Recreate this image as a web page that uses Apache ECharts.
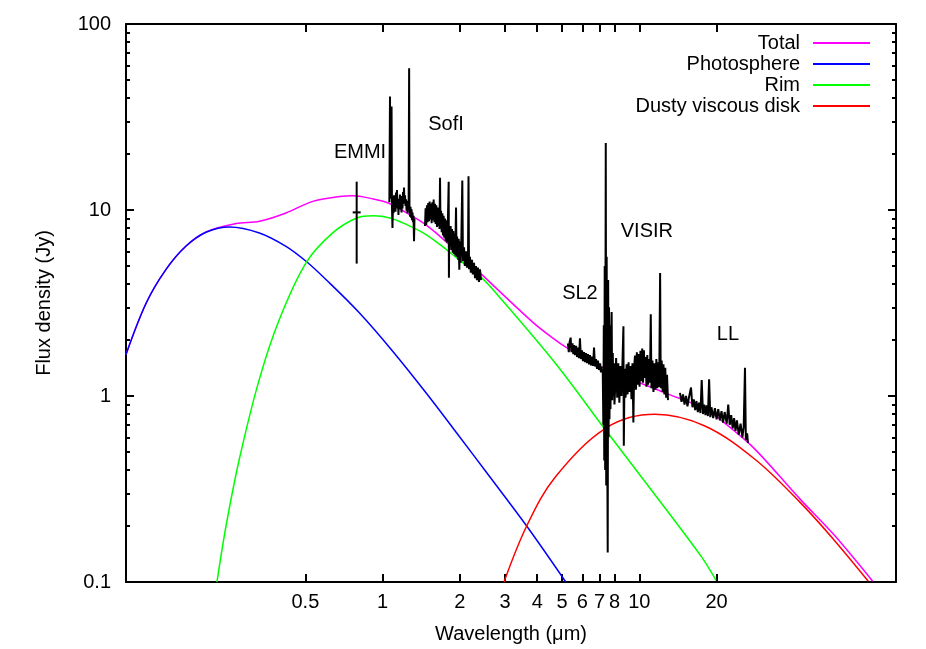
<!DOCTYPE html>
<html>
<head>
<meta charset="utf-8">
<title>SED</title>
<script src="https://cdn.jsdelivr.net/npm/echarts@6.0.0/dist/echarts.min.js"></script>
<style>
html, body { margin: 0; padding: 0; background: #fff; }
#main { width: 926px; height: 649px; }
</style>
</head>
<body>
<div id="main"></div>
<script>
// tick marks (wavelength in micron, flux in Jy)
var xTicks = [0.5, 1, 2, 3, 4, 5, 6, 7, 8, 10, 20];
var yTicks = [0.1, 1, 10, 100];
var yMinorTicks = [0.2, 0.3, 0.4, 0.5, 0.6, 0.7, 0.8, 0.9, 2, 3, 4, 5, 6, 7, 8, 9, 20, 30, 40, 50, 60, 70, 80, 90];

// model curves
var totalWave = [0.1, 0.12, 0.143, 0.171, 0.205, 0.268, 0.331, 0.42, 0.534, 0.682, 0.764, 0.919, 1.068, 1.241, 1.439, 1.672, 1.942, 2.394, 3.86, 4.69, 5.21, 7.24, 12.6, 18.0, 22.5, 28.2, 42.3, 57.0, 81.1];
var totalFlux = [1.67, 3.17, 4.78, 6.38, 7.62, 8.45, 8.69, 9.64, 11.13, 11.83, 11.94, 11.46, 10.81, 9.64, 8.52, 7.22, 6.00, 4.59, 2.48, 2.01, 1.82, 1.42, 1.04, 0.85, 0.68, 0.518, 0.279, 0.181, 0.101];
var photoWave = [0.1, 0.12, 0.143, 0.171, 0.205, 0.253, 0.331, 0.42, 0.503, 0.601, 0.811, 1.094, 1.475, 2.0, 2.54, 3.64, 5.17];
var photoFlux = [1.67, 3.17, 4.78, 6.38, 7.59, 8.11, 7.53, 6.38, 5.30, 4.23, 2.80, 1.74, 1.04, 0.60, 0.388, 0.20, 0.10];
var rimWave = [0.2261, 0.2453, 0.2763, 0.3306, 0.3957, 0.5028, 0.6384, 0.792, 0.919, 1.068, 1.241, 1.439, 1.672, 1.942, 2.394, 2.62, 4.69, 7.35, 12.79, 17.5, 19.9];
var rimFlux = [0.1, 0.2, 0.457, 1.229, 2.58, 5.20, 7.53, 9.06, 9.32, 9.06, 8.35, 7.53, 6.52, 5.53, 4.40, 3.89, 1.51, 0.662, 0.243, 0.136, 0.102];
var diskWave = [2.97, 3.64, 4.69, 7.46, 11.5, 18.0, 28.2, 42.3, 57.0, 78.0];
var diskFlux = [0.1, 0.2, 0.365, 0.676, 0.797, 0.690, 0.457, 0.268, 0.170, 0.101];

// photometry with error bar
var emmiWave = [0.792];
var emmiFlux = [9.71];
var emmiLow = [5.15];
var emmiHigh = [14.2];

// spectra
var sofiJWave = [1.062, 1.068, 1.072, 1.078, 1.083, 1.087, 1.092, 1.097, 1.102, 1.107, 1.112, 1.117, 1.122, 1.127, 1.132, 1.137, 1.142, 1.147, 1.152, 1.157, 1.162, 1.168, 1.173, 1.178, 1.184, 1.189, 1.195, 1.200, 1.205, 1.211, 1.216, 1.222, 1.227, 1.233, 1.239, 1.245, 1.250, 1.255, 1.262, 1.268, 1.272, 1.278, 1.284, 1.290, 1.296, 1.301, 1.307, 1.313, 1.319, 1.325, 1.330];
var sofiJFlux = [11.0, 40.8, 11.5, 13.0, 36.0, 10.5, 8.0, 11.2, 9.6, 12.0, 10.3, 11.8, 9.8, 12.4, 10.6, 12.8, 10.2, 11.5, 9.4, 11.0, 10.1, 12.1, 10.4, 11.3, 9.7, 11.9, 10.2, 12.5, 10.8, 13.2, 11.0, 12.0, 10.5, 11.4, 9.9, 10.8, 9.6, 11.2, 10.0, 57.8, 10.6, 9.2, 10.4, 9.1, 10.1, 8.8, 9.7, 8.6, 9.3, 6.8, 9.0];
var sofiHKWave = [1.462, 1.470, 1.478, 1.488, 1.496, 1.505, 1.515, 1.524, 1.533, 1.543, 1.552, 1.561, 1.571, 1.580, 1.590, 1.599, 1.609, 1.618, 1.628, 1.638, 1.648, 1.658, 1.665, 1.673, 1.680, 1.688, 1.698, 1.708, 1.718, 1.728, 1.738, 1.749, 1.760, 1.770, 1.781, 1.795, 1.808, 1.812, 1.818, 1.829, 1.840, 1.852, 1.863, 1.875, 1.885, 1.896, 1.905, 1.918, 1.931, 1.940, 1.950, 1.966, 1.978, 1.989, 2.001, 2.012, 2.025, 2.043, 2.055, 2.075, 2.090, 2.113, 2.130, 2.151, 2.160, 2.170, 2.189, 2.205, 2.229, 2.245, 2.269, 2.290, 2.310, 2.330, 2.351, 2.372, 2.394, 2.416];
var sofiHKFlux = [8.2, 10.2, 8.3, 10.6, 8.6, 10.9, 8.7, 11.1, 8.9, 10.8, 8.5, 11.0, 8.8, 11.4, 8.6, 10.8, 8.4, 10.6, 8.1, 10.3, 8.2, 10.0, 7.9, 14.9, 8.2, 9.9, 7.6, 9.6, 7.3, 9.3, 7.1, 9.0, 6.8, 8.8, 6.7, 8.6, 14.2, 4.32, 8.2, 6.4, 8.2, 6.1, 7.9, 5.9, 7.7, 5.8, 7.5, 5.7, 10.3, 5.6, 7.2, 5.4, 7.0, 4.78, 6.8, 5.2, 6.7, 14.4, 5.3, 6.3, 5.0, 6.0, 4.9, 5.9, 15.2, 4.8, 5.6, 4.6, 5.4, 4.5, 5.2, 4.3, 5.0, 4.2, 4.9, 4.1, 4.8, 4.2];
var sl2Wave = [5.27, 5.31, 5.35, 5.40, 5.44, 5.49, 5.53, 5.57, 5.62, 5.67, 5.72, 5.77, 5.82, 5.87, 5.92, 5.98, 6.03, 6.09, 6.14, 6.20, 6.25, 6.31, 6.37, 6.42, 6.48, 6.54, 6.60, 6.66, 6.72, 6.78, 6.84, 6.90, 6.96, 7.03, 7.09, 7.15];
var sl2Flux = [1.92, 1.72, 1.95, 2.06, 1.72, 1.92, 1.68, 1.88, 1.66, 1.86, 1.62, 1.82, 1.60, 2.04, 1.58, 1.76, 1.54, 1.72, 1.52, 1.70, 1.50, 1.68, 1.48, 1.66, 1.46, 1.63, 1.45, 1.82, 1.44, 1.58, 1.40, 1.55, 1.38, 1.50, 1.34, 1.44];
var visirWave = [7.20, 7.24, 7.27, 7.30, 7.33, 7.36, 7.40, 7.43, 7.46, 7.50, 7.53, 7.56, 7.59, 7.62, 7.65, 7.69, 7.72, 7.76, 7.80, 7.84, 7.88, 7.92, 7.96, 8.00, 8.05, 8.12, 8.20, 8.28, 8.36, 8.44, 8.52, 8.60, 8.67, 8.70, 8.76, 8.84, 8.92, 9.00, 9.08, 9.16, 9.24, 9.32, 9.40, 9.48, 9.55, 9.62, 9.70, 9.78, 9.86, 9.94, 10.02, 10.10, 10.18, 10.26, 10.34, 10.42, 10.50, 10.58, 10.66, 10.74, 10.82, 10.90, 11.00, 11.08, 11.15, 11.25, 11.35, 11.45, 11.55, 11.65, 11.75, 11.85, 11.95, 12.05, 12.12, 12.22, 12.32, 12.42, 12.52, 12.62, 12.72, 12.82, 12.93];
var visirFlux = [1.40, 0.70, 2.40, 0.45, 5.0, 0.40, 22.9, 0.33, 5.6, 0.50, 0.144, 4.2, 0.60, 3.0, 0.75, 2.4, 0.85, 2.0, 2.83, 0.95, 1.7, 1.0, 1.5, 0.90, 1.10, 1.60, 0.98, 1.50, 0.92, 1.45, 1.00, 1.55, 2.37, 0.54, 1.40, 0.98, 1.48, 1.02, 1.52, 1.05, 1.45, 0.96, 1.50, 0.72, 1.45, 1.65, 1.08, 1.72, 1.15, 1.68, 1.12, 1.75, 1.20, 1.80, 1.18, 1.76, 1.25, 1.62, 1.12, 1.66, 1.15, 1.58, 1.18, 2.75, 1.10, 1.55, 1.05, 1.50, 1.08, 1.58, 1.10, 1.52, 1.12, 4.59, 1.10, 1.55, 1.05, 1.48, 1.02, 1.42, 0.98, 1.30, 0.95];
var llWave = [14.4, 14.6, 14.8, 15.0, 15.2, 15.4, 15.6, 15.9, 16.1, 16.3, 16.5, 16.7, 16.9, 17.1, 17.3, 17.5, 17.7, 17.9, 18.1, 18.3, 18.5, 18.7, 18.9, 19.1, 19.4, 19.7, 20.0, 20.3, 20.6, 20.9, 21.2, 21.5, 21.9, 22.2, 22.5, 22.8, 23.1, 23.4, 23.7, 24.0, 24.4, 24.8, 25.2, 25.5, 25.8, 26.0, 26.3, 26.5];
var llFlux = [1.04, 0.93, 1.02, 0.90, 1.00, 0.88, 0.98, 1.11, 0.87, 0.96, 0.84, 0.94, 0.82, 0.92, 0.81, 1.22, 0.80, 0.90, 0.79, 0.89, 0.78, 1.23, 0.77, 0.87, 0.76, 0.86, 0.75, 0.85, 0.74, 0.83, 0.72, 0.82, 0.71, 0.90, 0.70, 0.79, 0.67, 0.76, 0.65, 0.74, 0.62, 0.71, 0.60, 0.68, 1.42, 0.58, 0.63, 0.56];

// instrument labels
var labelNames = ['EMMI', 'SofI', 'SL2', 'VISIR', 'LL'];
var labelWave = [0.816, 1.766, 5.87, 10.7, 22.15];
var labelFlux = [20.3, 28.7, 3.57, 7.65, 2.13];

var FONT = "'Liberation Sans', Arial, Helvetica, sans-serif";

function lg(v) { return Math.log10(v); }
function pairs(w, f) {
	var out = [];
	for (var i = 0; i < w.length; i++) {
		out.push([lg(w[i]), lg(f[i])]);
	}
	return out;
}
function tickText(v) { return String(Number(Math.pow(10, v).toPrecision(3))); }

// x axis: bottom with labels, top mirrored
function makeX(pos, withLabel) {
	return {
		type: 'value', position: pos, min: -1, max: 2,
		splitLine: { show: false },
		axisLine: { show: true, onZero: false, lineStyle: { color: '#000', width: 2 } },
		axisTick: { show: true, inside: true, length: 8, customValues: xTicks.map(lg), lineStyle: { color: '#000', width: 2 } },
		axisLabel: { show: withLabel, customValues: xTicks.map(lg), formatter: tickText, margin: 10, fontSize: 20, color: '#000', fontFamily: FONT },
		name: withLabel ? 'Wavelength (\u03bcm)' : '',
		nameLocation: 'middle', nameGap: 42,
		nameTextStyle: { fontSize: 20, color: '#000', fontFamily: FONT }
	};
}
// y axis: major (with labels) and minor ticks on both sides
function makeY(pos, minor, withLabel) {
	return {
		type: 'value', position: pos, min: -1, max: 2,
		splitLine: { show: false },
		axisLine: { show: !minor, onZero: false, lineStyle: { color: '#000', width: 2 } },
		axisTick: { show: true, inside: true, length: minor ? 4 : 8, customValues: (minor ? yMinorTicks : yTicks).map(lg), lineStyle: { color: '#000', width: 2 } },
		axisLabel: { show: withLabel, customValues: yTicks.map(lg), formatter: tickText, margin: 15, fontSize: 20, color: '#000', fontFamily: FONT },
		name: withLabel ? 'Flux density (Jy)' : '',
		nameLocation: 'middle', nameGap: 72,
		nameTextStyle: { fontSize: 20, color: '#000', fontFamily: FONT }
	};
}

function model(name, color, w, f) {
	return {
		name: name, type: 'line', data: pairs(w, f), smooth: 0.35,
		symbol: 'none', showSymbol: false, z: 2,
		lineStyle: { color: color, width: 1.5 }, itemStyle: { color: color }
	};
}
function spectrum(w, f) {
	return {
		type: 'line', data: pairs(w, f), symbol: 'none', showSymbol: false, z: 5,
		lineStyle: { color: '#000', width: 2 }
	};
}

var labelData = [];
for (var i = 0; i < labelNames.length; i++) {
	labelData.push({ name: labelNames[i], value: [lg(labelWave[i]), lg(labelFlux[i])] });
}
var emmiData = [];
for (var j = 0; j < emmiWave.length; j++) {
	emmiData.push([lg(emmiWave[j]), lg(emmiLow[j]), lg(emmiHigh[j]), lg(emmiFlux[j])]);
}

var chart = echarts.init(document.getElementById('main'), null, { renderer: 'canvas' });
chart.setOption({
	animation: false,
	backgroundColor: '#fff',
	grid: { left: 126, right: 30, top: 24, bottom: 66, containLabel: false },
	xAxis: [makeX('bottom', true), makeX('top', false)],
	yAxis: [makeY('left', false, true), makeY('left', true, false), makeY('right', false, false), makeY('right', true, false)],
	legend: {
		data: ['Total', 'Photosphere', 'Rim', 'Dusty viscous disk'],
		orient: 'vertical', right: 56, top: 33, align: 'right',
		icon: 'rect', itemWidth: 57, itemHeight: 2, itemGap: 1, padding: 0,
		selectedMode: false,
		textStyle: { fontSize: 20, color: '#000', fontFamily: FONT, lineHeight: 20, padding: [0, 8, 0, 0] }
	},
	series: [
		model('Total', '#ff00ff', totalWave, totalFlux),
		model('Photosphere', '#0000ff', photoWave, photoFlux),
		model('Rim', '#00ff00', rimWave, rimFlux),
		model('Dusty viscous disk', '#ff0000', diskWave, diskFlux),
		spectrum(sofiJWave, sofiJFlux),
		spectrum(sofiHKWave, sofiHKFlux),
		spectrum(sl2Wave, sl2Flux),
		spectrum(visirWave, visirFlux),
		spectrum(llWave, llFlux),
		{
			// EMMI point with vertical error bar
			type: 'custom', data: emmiData, z: 6,
			encode: { x: 0, y: [1, 2, 3] },
			renderItem: function (params, api) {
				var lo = api.coord([api.value(0), api.value(1)]);
				var hi = api.coord([api.value(0), api.value(2)]);
				var mid = api.coord([api.value(0), api.value(3)]);
				return {
					type: 'group',
					children: [
						{ type: 'line', shape: { x1: lo[0], y1: lo[1], x2: hi[0], y2: hi[1] }, style: { stroke: '#000', lineWidth: 2 } },
						{ type: 'line', shape: { x1: mid[0] - 4, y1: mid[1], x2: mid[0] + 4, y2: mid[1] }, style: { stroke: '#000', lineWidth: 2 } }
					]
				};
			}
		},
		{
			// instrument names
			type: 'scatter', data: labelData, symbolSize: 0, z: 6,
			itemStyle: { color: 'rgba(0,0,0,0)', opacity: 1 },
			label: { show: true, position: 'inside', formatter: '{b}', fontSize: 20, color: '#000', fontFamily: FONT, textBorderWidth: 0 }
		}
	]
});
</script>
</body>
</html>
